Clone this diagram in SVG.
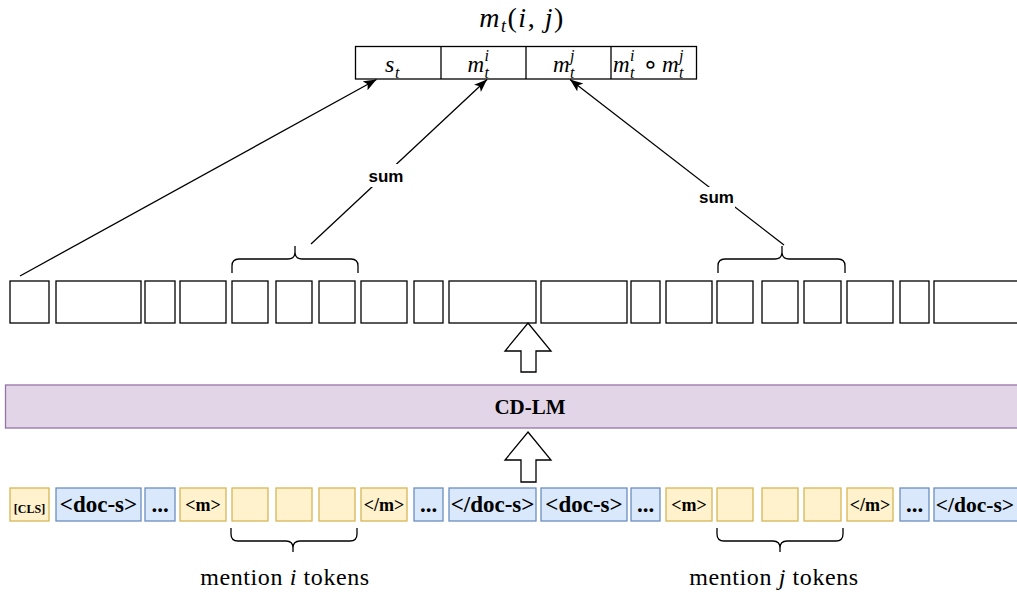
<svg xmlns="http://www.w3.org/2000/svg" width="1017" height="594" viewBox="0 0 1017 594">
<style>
.box{fill:#fff;stroke:#000;stroke-width:1.3}
.yel{fill:#fff2cc;stroke:#d6b656;stroke-width:1.3}
.blu{fill:#dae8fc;stroke:#6c8ebf;stroke-width:1.3}
.tok{font-family:"Liberation Serif",serif;font-weight:bold;fill:#000;text-anchor:middle}
.math{font-family:"Liberation Serif",serif;font-style:italic;fill:#000}
.ln{fill:none;stroke:#000;stroke-width:1.3}
.sum{font-family:"Liberation Sans",Arial,sans-serif;font-weight:bold;font-size:17px;text-anchor:middle;fill:#000}
.lbl{font-family:"Liberation Serif",serif;font-size:24px;letter-spacing:0.6px;text-anchor:middle;fill:#000}
.hollow{fill:#fff;stroke:#000;stroke-width:1.3}
</style>
<defs>
<marker id="arr" markerUnits="userSpaceOnUse" markerWidth="14" markerHeight="12" refX="13" refY="5" orient="auto">
<path d="M0,0 L13,5 L0,10 L3,5 Z" fill="#000"/>
</marker>
</defs>
<rect width="1017" height="594" fill="#fff"/>

<g id="title">
<text x="522" y="27" font-family="Liberation Serif,serif" font-size="28" letter-spacing="1.5" text-anchor="middle"><tspan font-style="italic">m</tspan><tspan font-style="italic" font-size="18" dy="5">t</tspan><tspan dy="-5">(</tspan><tspan font-style="italic">i</tspan><tspan>, </tspan><tspan font-style="italic">j</tspan><tspan>)</tspan></text>
</g>

<g id="mt-vector">
<rect class="box" x="355.5" y="46.5" width="341" height="32.5"/>
<line class="ln" x1="441" y1="46.5" x2="441" y2="79"/>
<line class="ln" x1="526" y1="46.5" x2="526" y2="79"/>
<line class="ln" x1="611" y1="46.5" x2="611" y2="79"/>
<text class="math" x="385" y="71.5" font-size="24">s</text>
<text class="math" x="395" y="77.5" font-size="16">t</text>
<text class="math" x="467.5" y="71.5" font-size="23">m</text>
<text class="math" x="484.5" y="77.5" font-size="16">t</text>
<text class="math" x="484.5" y="61" font-size="16">i</text>
<text class="math" x="553" y="71.5" font-size="23">m</text>
<text class="math" x="570" y="77.5" font-size="16">t</text>
<text class="math" x="570" y="61" font-size="16">j</text>
<text class="math" x="613" y="71.5" font-size="23">m</text>
<text class="math" x="630" y="77.5" font-size="16">t</text>
<text class="math" x="630" y="61" font-size="16">i</text>
<text x="650.5" y="73" font-family="DejaVu Sans,sans-serif" font-size="26" text-anchor="middle">∘</text>
<text class="math" x="662" y="71.5" font-size="23">m</text>
<text class="math" x="679" y="77.5" font-size="16">t</text>
<text class="math" x="679" y="61" font-size="16">j</text>
</g>

<g id="embeddings">
<rect class="box" x="10" y="281" width="39" height="42"/>
<rect class="box" x="56" y="281" width="85" height="42"/>
<rect class="box" x="145" y="281" width="30" height="42"/>
<rect class="box" x="180" y="281" width="46" height="42"/>
<rect class="box" x="232" y="281" width="36" height="42"/>
<rect class="box" x="276" y="281" width="36" height="42"/>
<rect class="box" x="319" y="281" width="36" height="42"/>
<rect class="box" x="361" y="281" width="46" height="42"/>
<rect class="box" x="414" y="281" width="29" height="42"/>
<rect class="box" x="449" y="281" width="87" height="42"/>
<rect class="box" x="541" y="281" width="86" height="42"/>
<rect class="box" x="631" y="281" width="29" height="42"/>
<rect class="box" x="666" y="281" width="46" height="42"/>
<rect class="box" x="717" y="281" width="36" height="42"/>
<rect class="box" x="762" y="281" width="36" height="42"/>
<rect class="box" x="804" y="281" width="37" height="42"/>
<rect class="box" x="847" y="281" width="46" height="42"/>
<rect class="box" x="900" y="281" width="29" height="42"/>
<rect class="box" x="934" y="281" width="90" height="42"/>
</g>

<g id="brace-top-i"><path class="ln" d="M232,273 L232,266 Q232,259 239,259 L288,259 Q295,259 295,252 L295,246 M295,252 Q295,259 302,259 L351,259 Q358,259 358,266 L358,273"/></g>
<g id="brace-top-j"><path class="ln" d="M718,273 L718,266 Q718,259 725,259 L775,259 Q782,259 782,252 L782,246 M782,252 Q782,259 789,259 L838,259 Q845,259 845,266 L845,273"/></g>

<g id="up-arrow-1"><polygon class="hollow" points="528,323 551,351 536,351 536,372 521,372 521,351 505,351"/></g>

<g id="cd-lm">
<rect x="5.5" y="385" width="1020" height="43" fill="#e1d5e7" stroke="#9673a6" stroke-width="1.3"/>
<text x="530" y="414" font-family="Liberation Serif,serif" font-weight="bold" font-size="21" text-anchor="middle">CD-LM</text>
</g>

<g id="up-arrow-2"><polygon class="hollow" points="528,432 551,460 536,460 536,482 521,482 521,460 505,460"/></g>

<g id="tokens">
<rect class="yel" x="10" y="488" width="39" height="33"/><text class="tok" x="29.5" y="513" font-size="12">[CLS]</text>
<rect class="blu" x="56" y="488" width="85" height="33"/><text class="tok" x="98.5" y="512" font-size="23">&lt;doc-s&gt;</text>
<rect class="blu" x="145" y="488" width="30" height="33"/><text class="tok" x="160" y="512" font-size="23">...</text>
<rect class="yel" x="180" y="488" width="46" height="33"/><text class="tok" x="203" y="511" font-size="18">&lt;m&gt;</text>
<rect class="yel" x="232" y="488" width="36" height="33"/>
<rect class="yel" x="276" y="488" width="36" height="33"/>
<rect class="yel" x="319" y="488" width="36" height="33"/>
<rect class="yel" x="361" y="488" width="46" height="33"/><text class="tok" x="384" y="511" font-size="18">&lt;/m&gt;</text>
<rect class="blu" x="414" y="488" width="29" height="33"/><text class="tok" x="428.5" y="512" font-size="23">...</text>
<rect class="blu" x="449" y="488" width="87" height="33"/><text class="tok" x="492.5" y="512" font-size="23">&lt;/doc-s&gt;</text>
<rect class="blu" x="541" y="488" width="86" height="33"/><text class="tok" x="584" y="512" font-size="23">&lt;doc-s&gt;</text>
<rect class="blu" x="631" y="488" width="29" height="33"/><text class="tok" x="645.5" y="512" font-size="23">...</text>
<rect class="yel" x="666" y="488" width="46" height="33"/><text class="tok" x="689" y="511" font-size="18">&lt;m&gt;</text>
<rect class="yel" x="717" y="488" width="36" height="33"/>
<rect class="yel" x="762" y="488" width="36" height="33"/>
<rect class="yel" x="804" y="488" width="37" height="33"/>
<rect class="yel" x="847" y="488" width="46" height="33"/><text class="tok" x="870" y="511" font-size="18">&lt;/m&gt;</text>
<rect class="blu" x="900" y="488" width="29" height="33"/><text class="tok" x="914.5" y="512" font-size="23">...</text>
<rect class="blu" x="934" y="488" width="90" height="33"/><text class="tok" x="975" y="512" font-size="21.5">&lt;/doc-s&gt;</text>
</g>

<g id="brace-bottom-i"><path class="ln" d="M231,528 L231,534 Q231,541 238,541 L286,541 Q293,541 293,548 L293,552 M293,548 Q293,541 300,541 L350,541 Q357,541 357,534 L357,528"/></g>
<g id="brace-bottom-j"><path class="ln" d="M717,528 L717,534 Q717,541 724,541 L773,541 Q780,541 780,548 L780,552 M780,548 Q780,541 787,541 L836,541 Q843,541 843,534 L843,528"/></g>

<g id="label-i"><text class="lbl" x="285" y="585">mention <tspan font-style="italic">i</tspan> tokens</text></g>
<g id="label-j"><text class="lbl" x="774" y="585">mention <tspan font-style="italic">j</tspan> tokens</text></g>

<g id="connectors">
<line class="ln" x1="20" y1="276" x2="376.5" y2="79.5" marker-end="url(#arr)"/>
<line class="ln" x1="311" y1="244" x2="487" y2="79.5" marker-end="url(#arr)"/>
<line class="ln" x1="784" y1="245" x2="570" y2="79.5" marker-end="url(#arr)"/>
<rect x="369" y="164" width="35" height="23" fill="#fff"/>
<text class="sum" x="386" y="182">sum</text>
<rect x="699" y="187" width="36" height="21" fill="#fff"/>
<text class="sum" x="716.5" y="203">sum</text>
</g>
</svg>
